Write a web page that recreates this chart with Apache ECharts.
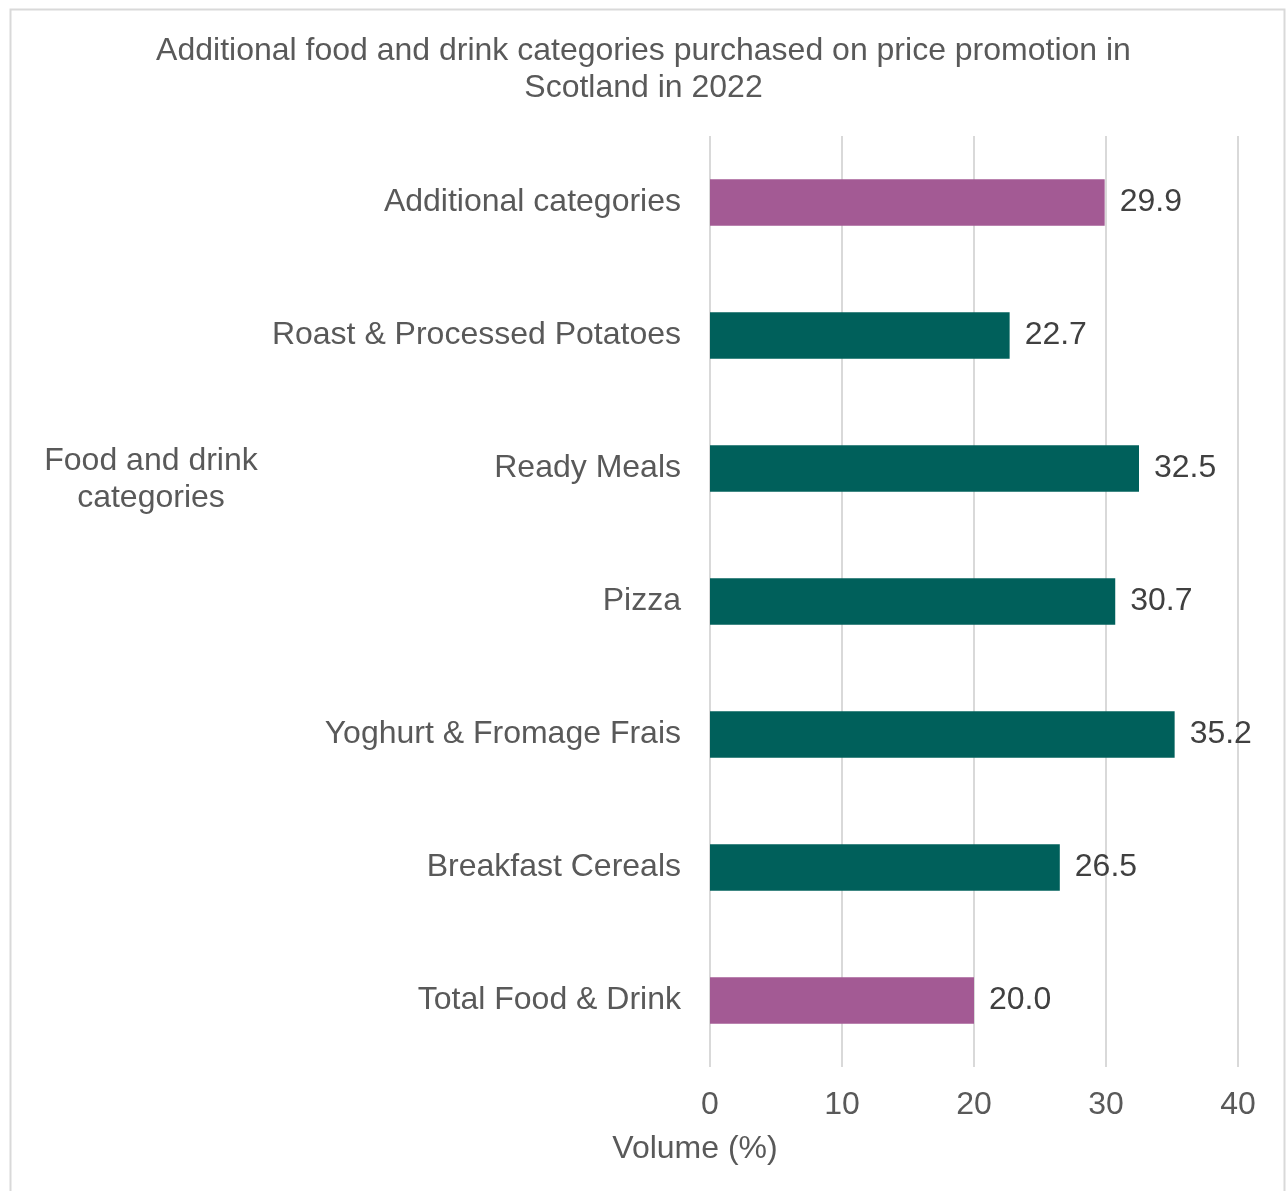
<!DOCTYPE html>
<html>
<head>
<meta charset="utf-8">
<style>
  html, body { margin: 0; padding: 0; background: #ffffff; }
  #chart { width: 1287px; height: 1191px; }
</style>
<script src="https://cdn.jsdelivr.net/npm/echarts@6/dist/echarts.min.js"></script>
</head>
<body>
<div id="chart"></div>
<script>
// Categories listed bottom-to-top (category axis draws the first entry at the bottom)
const categories = [
  'Total Food & Drink',
  'Breakfast Cereals',
  'Yoghurt & Fromage Frais',
  'Pizza',
  'Ready Meals',
  'Roast & Processed Potatoes',
  'Additional categories'
];
const volumes = [20.0, 26.5, 35.2, 30.7, 32.5, 22.7, 29.9];
// Summary rows are highlighted in purple, individual categories in teal
const highlighted = ['Total Food & Drink', 'Additional categories'];
const xTicks = { min: 0, max: 40, interval: 10 };

const PURPLE = '#A35A94';
const TEAL = '#00605B';
const FONT = '"Liberation Sans", Arial, sans-serif';
const FS = 32;

const chart = echarts.init(document.getElementById('chart'), null, { renderer: 'canvas' });

chart.setOption({
  animation: false,
  backgroundColor: '#ffffff',
  textStyle: { fontFamily: FONT },
  title: {
    text: 'Additional food and drink categories purchased on price promotion in\nScotland in 2022',
    left: 'center',
    top: 28,
    textStyle: {
      fontFamily: FONT,
      fontSize: FS,
      fontWeight: 'normal',
      color: '#595959',
      lineHeight: 37
    }
  },
  graphic: [
    {
      type: 'rect',
      shape: { x: 10.5, y: 9.5, width: 1274, height: 1200 },
      style: { fill: 'none', stroke: '#d9d9d9', lineWidth: 2 },
      silent: true,
      z: -1
    },
    {
      type: 'text',
      x: 151,
      y: 480,
      style: {
        text: 'Food and drink\ncategories',
        font: FS + 'px ' + FONT,
        fill: '#595959',
        align: 'center',
        verticalAlign: 'middle',
        lineHeight: 37
      }
    },
    {
      type: 'text',
      x: 695,
      y: 1149,
      style: {
        text: 'Volume (%)',
        font: FS + 'px ' + FONT,
        fill: '#595959',
        align: 'center',
        verticalAlign: 'middle'
      }
    }
  ],
  grid: {
    left: 710,
    right: 49,
    top: 136,
    bottom: 1191 - 1067,
    containLabel: false
  },
  xAxis: {
    type: 'value',
    min: xTicks.min,
    max: xTicks.max,
    interval: xTicks.interval,
    axisLine: { show: false },
    axisTick: { show: false },
    splitLine: { show: true, lineStyle: { color: '#d9d9d9', width: 2 } },
    axisLabel: {
      fontFamily: FONT,
      fontSize: FS,
      color: '#595959',
      margin: 22
    }
  },
  yAxis: {
    type: 'category',
    data: categories,
    axisLine: { show: false },
    axisTick: { show: false },
    axisLabel: {
      fontFamily: FONT,
      fontSize: FS,
      color: '#595959',
      margin: 29,
      padding: [5, 0, 0, 0]
    }
  },
  series: [
    {
      type: 'bar',
      barWidth: '35%',
      data: volumes.map((v, i) => ({
        value: v,
        itemStyle: { color: highlighted.includes(categories[i]) ? PURPLE : TEAL }
      })),
      label: {
        show: true,
        position: 'right',
        distance: 15,
        padding: [5, 0, 0, 0],
        fontFamily: FONT,
        fontSize: FS,
        color: '#404040',
        formatter: p => p.value.toFixed(1)
      }
    }
  ]
});
</script>
</body>
</html>
